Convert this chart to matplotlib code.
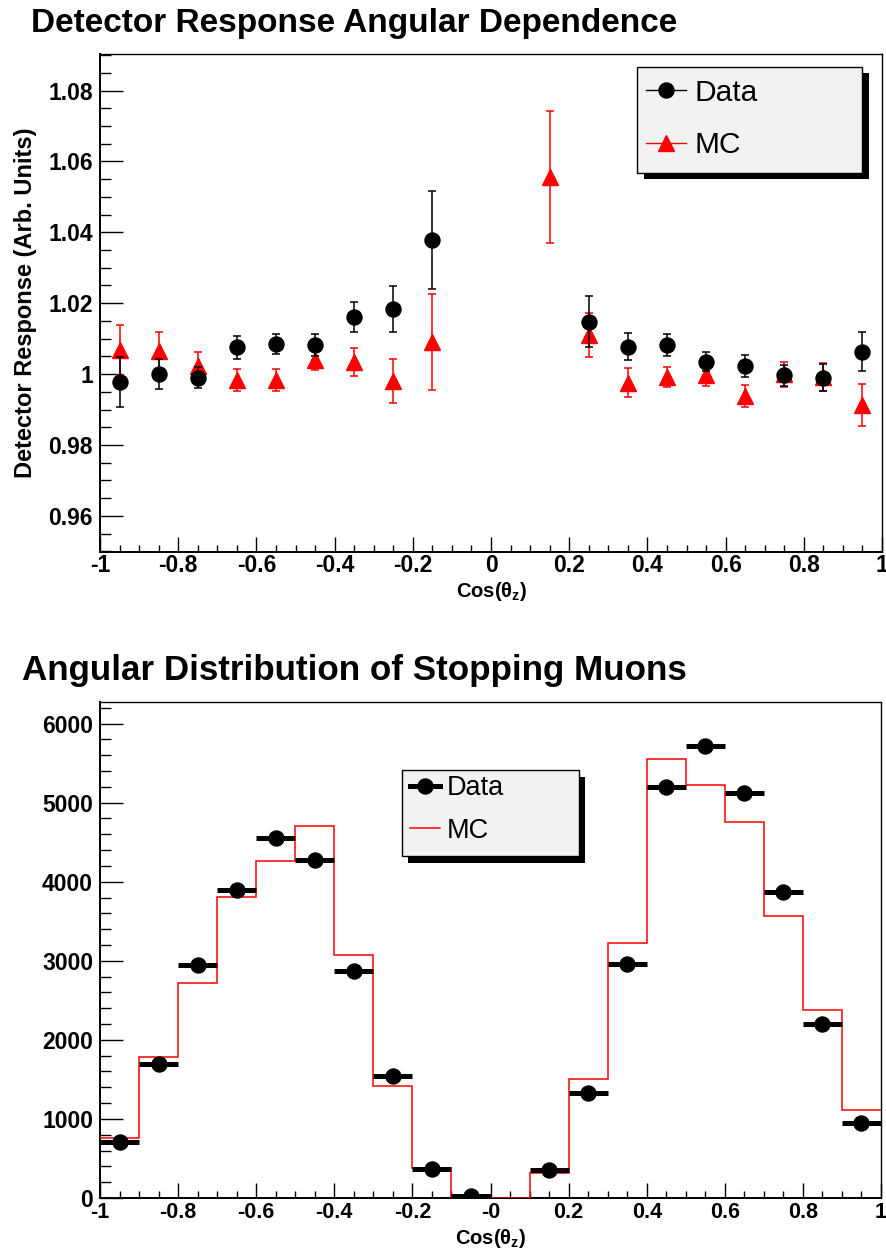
import numpy as np
import matplotlib
matplotlib.use("Agg")
import matplotlib.pyplot as plt
from matplotlib.lines import Line2D
from matplotlib.patches import Rectangle
from matplotlib.transforms import ScaledTranslation
from matplotlib.ticker import MultipleLocator, FixedLocator, FixedFormatter

plt.rcParams['font.family'] = ['Liberation Sans', 'DejaVu Sans']
plt.rcParams['mathtext.fontset'] = 'custom'
plt.rcParams['mathtext.rm'] = 'Liberation Sans:bold'
plt.rcParams['mathtext.it'] = 'Liberation Sans:bold'
plt.rcParams['mathtext.bf'] = 'Liberation Sans:bold'

# ---- detector response vs cos(theta_z) ----
cos_data = [-0.95, -0.85, -0.75, -0.65, -0.55, -0.45, -0.35, -0.25, -0.15,
            0.25, 0.35, 0.45, 0.55, 0.65, 0.75, 0.85, 0.95]
resp_data = [0.9978, 1.0000, 0.9990, 1.0075, 1.0086, 1.0082, 1.0161, 1.0184, 1.0379,
             1.0148, 1.0077, 1.0082, 1.0035, 1.0023, 0.9996, 0.9989, 1.0063]
resp_data_err = [0.0070, 0.0042, 0.0030, 0.0032, 0.0028, 0.0032, 0.0041, 0.0064, 0.0138,
                 0.0072, 0.0038, 0.0030, 0.0027, 0.0030, 0.0030, 0.0038, 0.0055]

cos_mc = [-0.95, -0.85, -0.75, -0.65, -0.55, -0.45, -0.35, -0.25, -0.15,
          0.15, 0.25, 0.35, 0.45, 0.55, 0.65, 0.75, 0.85, 0.95]
resp_mc = [1.0068, 1.0065, 1.0023, 0.9983, 0.9983, 1.0041, 1.0034, 0.9980, 1.0091,
           1.0556, 1.0110, 0.9976, 0.9992, 0.9997, 0.9938, 0.9999, 0.9992, 0.9913]
resp_mc_err = [0.0070, 0.0055, 0.0040, 0.0032, 0.0032, 0.0030, 0.0040, 0.0062, 0.0136,
               0.0186, 0.0062, 0.0040, 0.0029, 0.0030, 0.0030, 0.0035, 0.0040, 0.0059]

resp_ticks = [0.96, 0.98, 1.00, 1.02, 1.04, 1.06, 1.08]
resp_tick_labels = ['0.96', '0.98', '1', '1.02', '1.04', '1.06', '1.08']

# ---- stopping muon angular distribution ----
bin_edges = np.round(np.arange(-1.0, 1.0001, 0.1), 2)
mc_counts = [759, 1783, 2724, 3807, 4258, 4705, 3070, 1416, 384, 0,
             0, 316, 1505, 3219, 5548, 5228, 4755, 3563, 2383, 1109]
cos_counts = [-0.95, -0.85, -0.75, -0.65, -0.55, -0.45, -0.35, -0.25, -0.15, -0.05,
              0.15, 0.25, 0.35, 0.45, 0.55, 0.65, 0.75, 0.85, 0.95]
data_counts = [708, 1700, 2950, 3891, 4558, 4280, 2871, 1548, 367, 20,
               357, 1333, 2960, 5198, 5713, 5118, 3870, 2206, 949]

count_ticks = [0, 1000, 2000, 3000, 4000, 5000, 6000]

cos_ticks = [-1.0, -0.8, -0.6, -0.4, -0.2, 0.0, 0.2, 0.4, 0.6, 0.8, 1.0]
cos_labels_top = ['-1', '-0.8', '-0.6', '-0.4', '-0.2', '0', '0.2', '0.4', '0.6', '0.8', '1']
cos_labels_bottom = ['-1', '-0.8', '-0.6', '-0.4', '-0.2', '-0', '0.2', '0.4', '0.6', '0.8', '1']

W, H = 886, 1250
fig = plt.figure(figsize=(W / 100, H / 100), dpi=100)
fig.patch.set_facecolor('white')


def frac_axes(x0, y0, x1, y1):
    return fig.add_axes([x0 / W, 1 - y1 / H, (x1 - x0) / W, (y1 - y0) / H])


def style_axes(ax, xlabels, yminor, xsize, xpad):
    ax.set_xlim(-1, 1)
    ax.xaxis.set_major_locator(FixedLocator(cos_ticks))
    ax.xaxis.set_major_formatter(FixedFormatter(xlabels))
    ax.xaxis.set_minor_locator(MultipleLocator(0.05))
    ax.yaxis.set_minor_locator(MultipleLocator(yminor))
    ax.tick_params(axis='both', which='both', direction='in', top=False, right=False,
                   width=1.0, color='black')
    ax.tick_params(axis='x', which='major', length=10.8, pad=xpad, labelsize=xsize)
    ax.tick_params(axis='x', which='minor', length=5.4)
    ax.tick_params(axis='y', which='major', length=16.3, pad=5, labelsize=16.5)
    ax.tick_params(axis='y', which='minor', length=8.0)
    for lab in ax.get_xticklabels() + ax.get_yticklabels():
        lab.set_fontweight('bold')
    for side in ['left', 'bottom']:
        ax.spines[side].set_linewidth(1.4)
    for side in ['top', 'right']:
        ax.spines[side].set_linewidth(1.0)


def boxed_legend(ax, handles, labels, box, shadow_px, fontsize, handlelength,
                 handletextpad, labelspacing, anchor):
    x0, y0, x1, y1 = box
    shift = ScaledTranslation(shadow_px[0] / 100, -shadow_px[1] / 100, fig.dpi_scale_trans)
    ax.add_patch(Rectangle((x0, y0), x1 - x0, y1 - y0, transform=ax.transAxes + shift,
                           facecolor='black', edgecolor='black', lw=0, zorder=8,
                           clip_on=False))
    ax.add_patch(Rectangle((x0, y0), x1 - x0, y1 - y0, transform=ax.transAxes,
                           facecolor='#f2f2f2', edgecolor='black', lw=1.0, zorder=9,
                           clip_on=False))
    leg = ax.legend(handles, labels, loc='center left', bbox_to_anchor=anchor,
                    frameon=False, fontsize=fontsize, handlelength=handlelength,
                    handletextpad=handletextpad, labelspacing=labelspacing,
                    borderpad=0, borderaxespad=0)
    leg.set_zorder(10)
    return leg


# ---------------- top panel ----------------
ax1 = frac_axes(100, 54, 882, 552)
ax1.errorbar(cos_data, resp_data, yerr=resp_data_err, fmt='o', color='black',
             ms=10.8, elinewidth=1.1, capsize=3.0, capthick=1.1, zorder=4)
ax1.errorbar(cos_mc, resp_mc, yerr=resp_mc_err, fmt='^', color='red',
             ms=11.5, elinewidth=1.1, capsize=3.0, capthick=1.1, zorder=3)
ax1.set_ylim(0.9498, 1.0903)
ax1.yaxis.set_major_locator(FixedLocator(resp_ticks))
ax1.yaxis.set_major_formatter(FixedFormatter(resp_tick_labels))
style_axes(ax1, cos_labels_top, 0.005, 16.5, 1.5)
ax1.set_ylabel('Detector Response (Arb. Units)', fontsize=17, fontweight='bold')
ax1.yaxis.set_label_coords(-0.081, 0.5)
ax1.set_xlabel(r'Cos($\theta_{z}$)', fontsize=14.5, fontweight='bold')
ax1.xaxis.set_label_coords(0.5, -0.057)

h_data = Line2D([], [], color='black', lw=1.0, marker='o', ms=10.8)
h_mc = Line2D([], [], color='red', lw=1.0, marker='^', ms=11.5)
boxed_legend(ax1, [h_data, h_mc], ['Data', 'MC'],
             box=(0.6867, 0.761, 0.9744, 0.9739), shadow_px=(7, 6),
             fontsize=21.5, handlelength=1.34, handletextpad=0.3, labelspacing=0.82,
             anchor=(0.698, 0.8695))

fig.text(31 / W, 1 - 32 / H, 'Detector Response Angular Dependence',
         fontsize=24, fontweight='bold', ha='left', va='baseline')

# ---------------- bottom panel ----------------
ax2 = frac_axes(100, 702, 881, 1198)
ax2.stairs(mc_counts, bin_edges, color='red', lw=1.1, baseline=None, zorder=3)
ax2.errorbar(cos_counts, data_counts, xerr=0.05, fmt='o', color='black',
             ms=10.8, elinewidth=3.6, capsize=0, zorder=4)
ax2.set_ylim(0, 6273)
ax2.yaxis.set_major_locator(FixedLocator(count_ticks))
ax2.yaxis.set_major_formatter(FixedFormatter([str(t) for t in count_ticks]))
style_axes(ax2, cos_labels_bottom, 200, 15.5, 3.0)
ax2.set_xlabel(r'Cos($\theta_{z}$)', fontsize=14.5, fontweight='bold')
ax2.xaxis.set_label_coords(0.5, -0.0575)

h2_data = Line2D([], [], color='black', lw=3.6, marker='o', ms=10.8)
h2_mc = Line2D([], [], color='red', lw=1.1)
boxed_legend(ax2, [h2_data, h2_mc], ['Data', 'MC'],
             box=(0.3867, 0.6895, 0.6133, 0.8629), shadow_px=(6, 7),
             fontsize=19.5, handlelength=1.1, handletextpad=0.26, labelspacing=0.6,
             anchor=(0.397, 0.7833))

fig.text(22 / W, 1 - 680 / H, 'Angular Distribution of Stopping Muons',
         fontsize=25.2, fontweight='bold', ha='left', va='baseline')

fig.savefig('out.png', dpi=100, facecolor='white')
